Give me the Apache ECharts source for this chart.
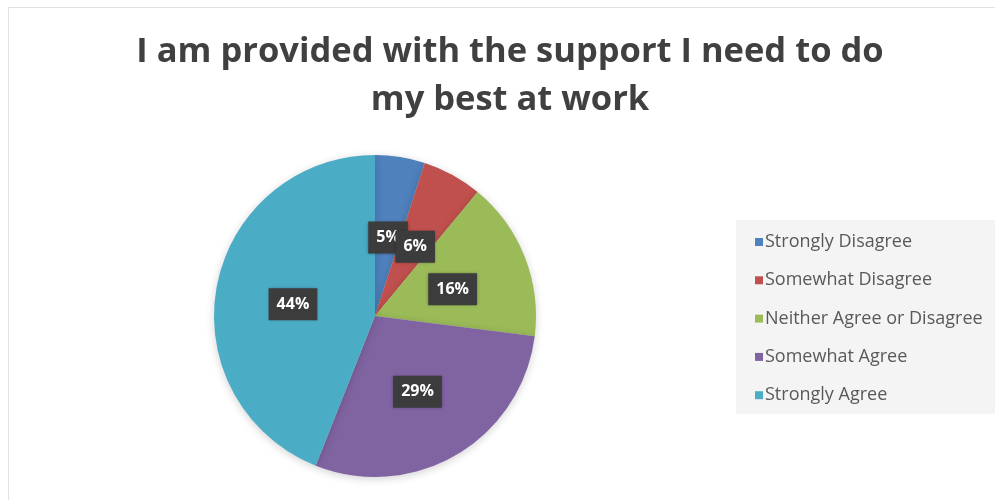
<!DOCTYPE html>
<html>
<head>
<meta charset="utf-8">
<script src="https://cdn.jsdelivr.net/npm/echarts@6/dist/echarts.min.js"></script>
<style>
  html, body { margin: 0; padding: 0; background: #ffffff; }
  #chart { width: 995px; height: 500px; }
</style>
</head>
<body>
<div id="chart"></div>
<script>
// Survey responses
const categories = [
  'Strongly Disagree',
  'Somewhat Disagree',
  'Neither Agree or Disagree',
  'Somewhat Agree',
  'Strongly Agree'
];
const percentages = [5, 6, 16, 29, 44];
const sliceColors = ['#4F81BD', '#C0504D', '#9BBB59', '#8064A2', '#4BACC6'];

const chart = echarts.init(document.getElementById('chart'), null, { renderer: 'canvas' });

const pieData = categories.map((name, i) => ({
  name: name,
  value: percentages[i],
  itemStyle: { color: sliceColors[i] }
}));

chart.setOption({
  animation: false,
  backgroundColor: '#ffffff',
  title: {
    text: 'I am provided with the support I need to do\nmy best at work',
    top: 23,
    left: 505,
    textAlign: 'center',
    textStyle: {
      fontFamily: 'Open Sans',
      fontWeight: 'bold',
      fontSize: 34.5,
      color: '#404040',
      lineHeight: 48
    }
  },
  graphic: [
    {
      type: 'rect',
      shape: { x: 8.5, y: 7.5, width: 1000, height: 1000 },
      style: { fill: 'none', stroke: '#e2e2e2', lineWidth: 1 },
      z: -10
    },
    {
      type: 'rect',
      shape: { x: 736, y: 220, width: 259, height: 194 },
      style: { fill: '#f4f4f4' },
      z: -5
    }
  ],
  legend: {
    orient: 'vertical',
    left: 750,
    top: 228,
    itemWidth: 8,
    itemHeight: 8,
    itemGap: 20.3,
    icon: 'rect',
    textStyle: {
      fontFamily: 'Open Sans',
      fontSize: 18,
      color: '#595959',
      padding: [0, 0, 0, -3]
    },
    data: categories
  },
  series: [{
    type: 'pie',
    center: [375, 316],
    radius: [0, 161],
    startAngle: 90,
    clockwise: true,
    avoidLabelOverlap: false,
    labelLayout: { hideOverlap: false },
    itemStyle: {
      shadowBlur: 8,
      shadowColor: 'rgba(0,0,0,0.18)',
      shadowOffsetY: 2
    },
    label: {
      show: true,
      position: 'inside',
      formatter: '{c}%',
      offset: [0, 4],
      color: '#ffffff',
      fontFamily: 'Open Sans',
      fontWeight: 'bold',
      fontSize: 16,
      backgroundColor: '#3c3c3c',
      padding: [8, 8],
      shadowBlur: 3,
      shadowColor: 'rgba(0,0,0,0.35)'
    },
    labelLine: { show: false },
    emphasis: { disabled: true },
    data: pieData
  }]
});
</script>
</body>
</html>
